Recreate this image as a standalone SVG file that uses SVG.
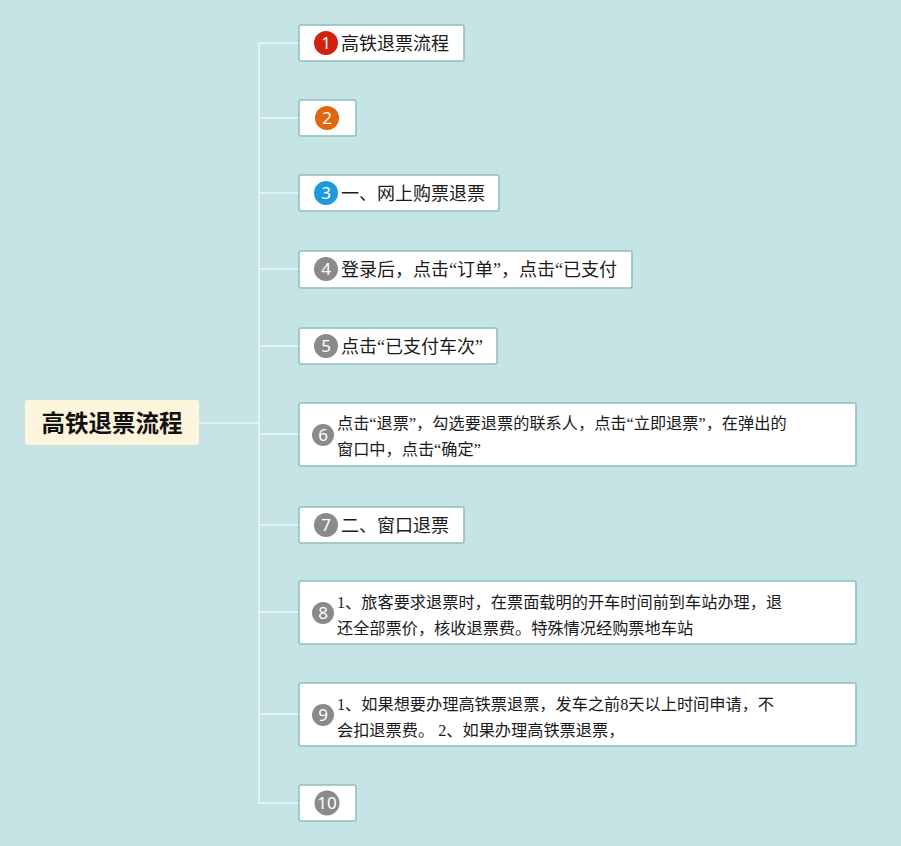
<svg xmlns="http://www.w3.org/2000/svg" width="901" height="846" viewBox="0 0 901 846">
<style>
.box{fill:#ffffff;stroke:#8dbfb8;stroke-width:1.5}
.t{font-family:"Liberation Serif","Noto Sans CJK SC",sans-serif;font-size:18px;fill:#1a1a1a}
.m{font-family:"Liberation Serif","Noto Sans CJK SC",sans-serif;font-size:16.2px;fill:#1a1a1a}
.n{font-family:"Noto Sans","Liberation Sans",sans-serif;font-size:17px;fill:#ffffff;text-anchor:middle}
.c{fill:none;stroke:#edf7f7;stroke-width:1.5}
</style>
<rect x="0" y="0" width="901" height="846" fill="#c6e4e5"/>
<g id="connectors">
<path class="c" d="M199 423 H259 M259 43 V803 M259 43 H299 M259 118 H299 M259 193 H299 M259 269 H299 M259 346 H299 M259 434 H299 M259 525 H299 M259 612 H299 M259 714 H299 M259 803 H299"/>
</g>
<g id="root">
<rect x="25" y="400" width="174" height="45" rx="3" fill="#fdf5dc"/>
<text x="112" y="432" text-anchor="middle" font-family="'Noto Sans CJK SC',sans-serif" font-size="23.5" font-weight="bold" fill="#111">高铁退票流程</text>
</g>
<g id="n1">
<rect class="box" x="299" y="25" width="165" height="36" rx="2"/>
<circle cx="326" cy="43" r="12" fill="#d3200f"/><text class="n" x="326" y="49">1</text>
<text class="t" x="341" y="50">高铁退票流程</text>
</g>
<g id="n2">
<rect class="box" x="299" y="100" width="57" height="36" rx="2"/>
<circle cx="327" cy="118" r="12" fill="#e0660f"/><text class="n" x="327" y="124">2</text>
</g>
<g id="n3">
<rect class="box" x="299" y="175" width="200" height="36" rx="2"/>
<circle cx="326" cy="193" r="12" fill="#1f99d9"/><text class="n" x="326" y="199">3</text>
<text class="t" x="341" y="200">一、网上购票退票</text>
</g>
<g id="n4">
<rect class="box" x="299" y="251" width="333" height="37" rx="2"/>
<circle cx="326" cy="269" r="12" fill="#8a8a8a"/><text class="n" x="326" y="275">4</text>
<text class="t" x="341" y="276">登录后，点击“订单”，点击“已支付</text>
</g>
<g id="n5">
<rect class="box" x="299" y="328" width="198" height="36" rx="2"/>
<circle cx="326" cy="346" r="12" fill="#8a8a8a"/><text class="n" x="326" y="352">5</text>
<text class="t" x="341" y="353">点击“已支付车次”</text>
</g>
<g id="n6">
<rect class="box" x="299" y="403" width="557" height="63" rx="2"/>
<circle cx="323" cy="435" r="11" fill="#8a8a8a"/><text class="n" x="323" y="440.5" font-size="15">6</text>
<text class="m" x="337" y="429">点击“退票”，勾选要退票的联系人，点击“立即退票”，在弹出的</text>
<text class="m" x="337" y="455">窗口中，点击“确定”</text>
</g>
<g id="n7">
<rect class="box" x="299" y="507" width="165" height="36" rx="2"/>
<circle cx="326" cy="525" r="12" fill="#8a8a8a"/><text class="n" x="326" y="531">7</text>
<text class="t" x="341" y="532">二、窗口退票</text>
</g>
<g id="n8">
<rect class="box" x="299" y="581" width="557" height="63" rx="2"/>
<circle cx="323" cy="613" r="11" fill="#8a8a8a"/><text class="n" x="323" y="618.5" font-size="15">8</text>
<text class="m" x="337" y="608">1、旅客要求退票时，在票面载明的开车时间前到车站办理，退</text>
<text class="m" x="337" y="634">还全部票价，核收退票费。特殊情况经购票地车站</text>
</g>
<g id="n9">
<rect class="box" x="299" y="683" width="557" height="63" rx="2"/>
<circle cx="323" cy="715" r="11" fill="#8a8a8a"/><text class="n" x="323" y="720.5" font-size="15">9</text>
<text class="m" x="337" y="710">1、如果想要办理高铁票退票，发车之前8天以上时间申请，不</text>
<text class="m" x="337" y="736">会扣退票费。 2、如果办理高铁票退票，</text>
</g>
<g id="n10">
<rect class="box" x="299" y="785" width="57" height="36" rx="2"/>
<circle cx="327" cy="803" r="12.5" fill="#8a8a8a"/><text class="n" x="327" y="809">10</text>
</g>
</svg>
